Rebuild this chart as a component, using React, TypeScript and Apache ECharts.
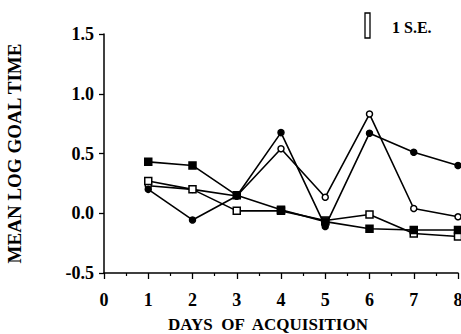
import React, { useEffect, useRef } from "react";
import * as echarts from "echarts";

const days = [1, 2, 3, 4, 5, 6, 7, 8];
const filledSquare = [0.43, 0.4, 0.15, 0.03, -0.07, -0.13, -0.14, -0.14];
const openSquare = [0.27, 0.2, 0.02, 0.02, -0.06, -0.01, -0.17, -0.195];
const filledCircle = [0.2, -0.056, 0.145, 0.675, -0.11, 0.67, 0.51, 0.4];
const openCircle = [0.23, 0.2, 0.145, 0.54, 0.134, 0.83, 0.04, -0.03];
const yTicks = [-0.5, 0, 0.5, 1, 1.5];

const FONT = "Liberation Serif";

function pairs(vals: number[]) {
  return days.map((d, i) => [d, vals[i]]);
}

export default function App() {
  const ref = useRef<HTMLDivElement>(null);
  useEffect(() => {
    if (!ref.current) return;
    const chart = echarts.init(ref.current, null, { renderer: "svg" });
    const lineStyle = { color: "#000", width: 1.6 };
    const mk = (name: string, data: number[], symbol: string, size: number, filled: boolean) => ({
      name,
      type: "line",
      data: pairs(data),
      symbol,
      symbolSize: size,
      showSymbol: true,
      lineStyle,
      itemStyle: { color: filled ? "#000" : "#fff", borderColor: "#000", borderWidth: 1.5 },
      z: filled ? 3 : 2,
    });
    chart.setOption({
      animation: false,
      backgroundColor: "#fff",
      textStyle: { fontFamily: FONT },
      grid: { left: 104, right: 3, top: 34, bottom: 61, containLabel: false, outerBoundsMode: "none" },
      xAxis: {
        type: "value",
        min: 0,
        max: 8,
        interval: 1,
        name: "DAYS  OF  ACQUISITION",
        nameLocation: "middle",
        nameGap: 43,
        nameTextStyle: {
          fontFamily: FONT,
          fontWeight: "bold",
          fontSize: 17,
          lineHeight: 17,
          color: "#000",
          padding: [0, 26, 0, 0],
        },
        axisLine: { onZero: false, lineStyle: { color: "#000", width: 1.5 } },
        axisTick: { inside: false, length: 6, lineStyle: { color: "#000", width: 1.3 } },
        minorTick: { show: true, splitNumber: 2, length: 3, lineStyle: { color: "#000", width: 1.2 } },
        axisLabel: { margin: 18, fontFamily: FONT, fontWeight: "bold", fontSize: 18, color: "#000" },
        splitLine: { show: false },
      },
      yAxis: {
        type: "value",
        min: yTicks[0],
        max: yTicks[yTicks.length - 1],
        interval: 0.5,
        name: "MEAN LOG GOAL TIME",
        nameLocation: "middle",
        nameGap: 80,
        nameTextStyle: { fontFamily: FONT, fontWeight: "bold", fontSize: 19, color: "#000" },
        axisLine: { show: true, onZero: false, lineStyle: { color: "#000", width: 1.5 } },
        axisTick: { show: true, inside: false, length: 5, lineStyle: { color: "#000", width: 1.3 } },
        axisLabel: {
          margin: 10,
          fontFamily: FONT,
          fontWeight: "bold",
          fontSize: 18,
          color: "#000",
          formatter: (v: number) => v.toFixed(1),
        },
        splitLine: { show: false },
      },
      series: [
        mk("openCircle", openCircle, "circle", 6, false),
        mk("openSquare", openSquare, "rect", 7, false),
        mk("filledSquare", filledSquare, "rect", 7, true),
        mk("filledCircle", filledCircle, "circle", 6, true),
      ],
      graphic: [
        {
          type: "rect",
          shape: { x: 365, y: 13, width: 5, height: 25 },
          style: { fill: "#fff", stroke: "#000", lineWidth: 1.3 },
        },
        {
          type: "text",
          x: 392,
          y: 27,
          style: {
            text: "1 S.E.",
            fontFamily: FONT,
            fontWeight: "bold",
            fontSize: 16,
            fill: "#000",
            verticalAlign: "middle",
            align: "left",
          },
        },
      ],
    });
    return () => chart.dispose();
  }, []);
  return <div ref={ref} style={{ width: 461, height: 334, position: "fixed", left: 0, top: 0 }} />;
}
